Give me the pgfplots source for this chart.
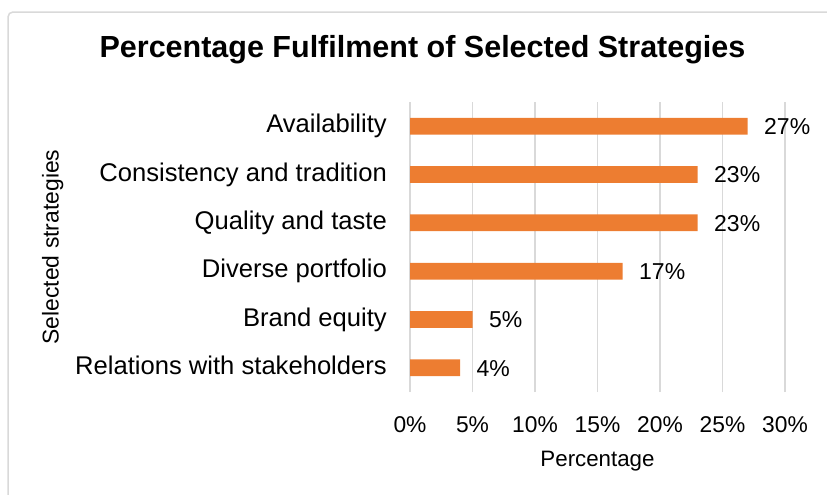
\documentclass[border=0pt]{standalone}
\usepackage{fontspec}
\setmainfont{Liberation Sans}
\usepackage{pgfplots}
\pgfplotsset{compat=1.18}
\definecolor{barorange}{HTML}{ED7D31}
\definecolor{gridgray}{HTML}{D9D9D9}
\begin{document}
\begin{tikzpicture}
\path[use as bounding box] (0,0) rectangle (827bp,-495bp);
\draw[color=gridgray, line width=1.5bp, rounded corners=5bp] (8bp,-500bp) -- (8bp,-12bp) -- (832bp,-12bp);
\begin{axis}[
  at={(410bp,-392bp)}, anchor=south west,
  scale only axis, width=375bp, height=290bp,
  xmin=0, xmax=30, ymin=0.5, ymax=6.5,
  xbar, bar width=16.7bp,
  clip=false,
  axis line style={draw=none},
  xtick={0,5,10,15,20,25,30},
  xticklabels={0\%,5\%,10\%,15\%,20\%,25\%,30\%},
  ytick={1,2,3,4,5,6},
  yticklabels={Relations with stakeholders, Brand equity, Diverse portfolio, Quality and taste, Consistency and tradition, Availability\hspace{7bp}},
  xmajorgrids, major grid style={gridgray, line width=1.5bp},
  tick style={draw=none}, major tick length=0pt,
  xticklabel style={font=\fontsize{22.8bp}{27bp}\selectfont, anchor=base, inner sep=0pt, yshift=-40bp},
  yticklabel style={font=\fontsize{25.6bp}{30bp}\selectfont, anchor=base east, inner sep=0pt, xshift=-23bp, yshift=-6.8bp},
  point meta=x,
  /pgf/number format/assume math mode=true,
  nodes near coords={\pgfmathprintnumber{\pgfplotspointmeta}\%},
  every node near coord/.append style={anchor=base west, inner sep=0pt, xshift=16.5bp, yshift=-8.2bp, font=\fontsize{23bp}{27bp}\selectfont, text=black},
]
\addplot[fill=barorange, draw=none] coordinates {(4,1) (5,2) (17,3) (23,4) (23,5) (27,6)};
\end{axis}
\node[font=\bfseries\fontsize{30.5bp}{36bp}\selectfont, anchor=base] at (422.5bp,-57bp) {Percentage Fulfilment of Selected Strategies};
\node[font=\fontsize{22.3bp}{27bp}\selectfont, anchor=base] at (597.5bp,-466bp) {Percentage};
\node[font=\fontsize{22.9bp}{27bp}\selectfont, rotate=90, anchor=base] at (58.5bp,-247bp) {Selected strategies};
\end{tikzpicture}
\end{document}
